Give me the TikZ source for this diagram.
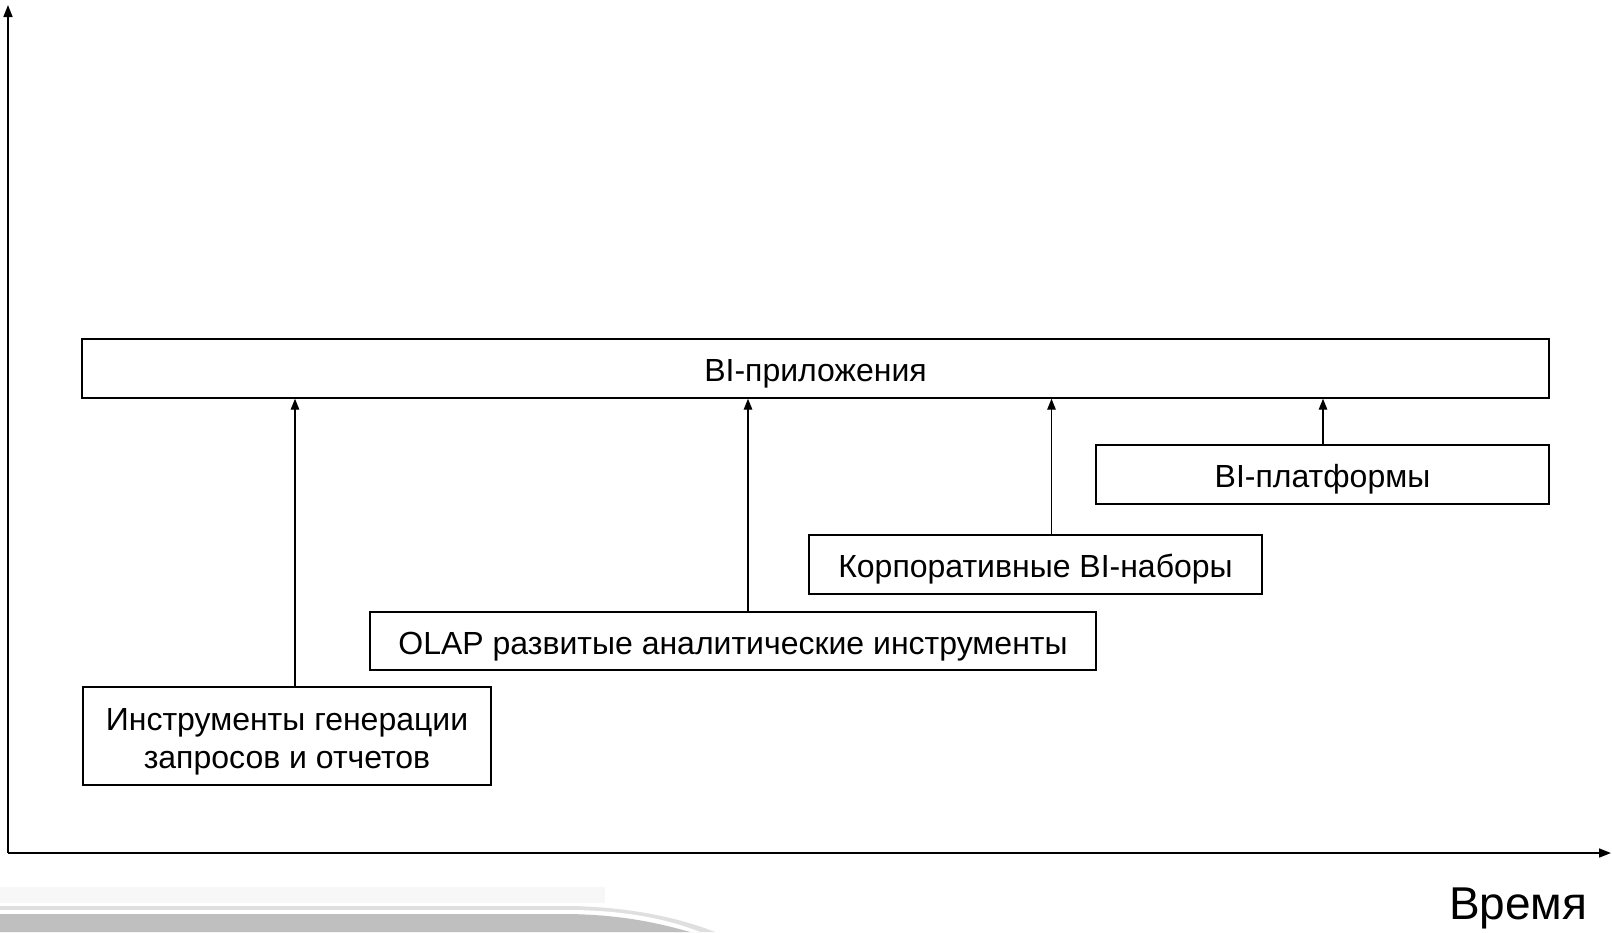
\documentclass[tikz,border=0pt]{standalone}
\usepackage{fontspec}
\setmainfont{Liberation Sans}
\usetikzlibrary{arrows.meta,calc}
\tikzset{
  boxnode/.style={draw=black, line width=1.4pt, fill=white, inner sep=0pt, font=\fontsize{32}{38}\selectfont, align=center, text depth=0pt, text height=26pt},
  uparrow/.style={line width=1.4pt, -{Triangle[length=11pt,width=8.5pt]}},
  axis/.style={line width=1.6pt, -{Triangle[length=12pt,width=9pt]}}
}
\begin{document}
\begin{tikzpicture}[x=1pt,y=-1pt]
\useasboundingbox (0,0) rectangle (1612,932);
\fill[white] (0,0) rectangle (1612,932);
% background band
\fill[gray!6] (0,887) rectangle (605,903);
\fill[gray!25] (0,906) -- (570,906) .. controls (630,907) and (680,918) .. (715,932) -- (0,932) -- cycle;
\fill[white] (0,910) -- (575,910) .. controls (630,911) and (670,920) .. (700,932) -- (0,932) -- cycle;
\fill[gray!50] (0,914) -- (570,914) .. controls (620,915) and (655,922) .. (690,932) -- (0,932) -- cycle;
% axes
\coordinate (o) at (8,853);
\coordinate (ytop) at (8,5);
\coordinate (xend) at (1611,853);
\draw[axis] (o) -- (ytop);
\draw[axis] (o) -- (xend);
\node[anchor=base east, font=\fontsize{46}{54}\selectfont] (time) at (1591,919) {Время};
% boxes
\node[boxnode, minimum width=1467pt, minimum height=59pt] (bi) at (815.5,368.5) {BI-приложения};
\node[boxnode, minimum width=453pt, minimum height=59pt] (plat) at (1322.5,474.5) {BI-платформы};
\node[boxnode, minimum width=453pt, minimum height=59pt] (corp) at (1035.5,564.5) {Корпоративные BI-наборы};
\node[boxnode, minimum width=726pt, minimum height=58pt] (olap) at (733,641) {OLAP развитые аналитические инструменты};
\node[boxnode, minimum width=408pt, minimum height=98pt, font=\fontsize{32}{38}\selectfont, text height=64pt] (ins) at (287,736) {Инструменты генерации\\запросов и отчетов};
% arrows
\draw[uparrow] ([xshift=8pt]ins.north) -- ([xshift=8pt]ins.north |- bi.south);
\draw[uparrow] ([xshift=15pt]olap.north) -- ([xshift=15pt]olap.north |- bi.south);
\draw[uparrow] ([xshift=16pt]corp.north) -- ([xshift=16pt]corp.north |- bi.south);
\draw[uparrow] ([xshift=0.5pt]plat.north) -- ([xshift=0.5pt]plat.north |- bi.south);
\end{tikzpicture}
\end{document}
